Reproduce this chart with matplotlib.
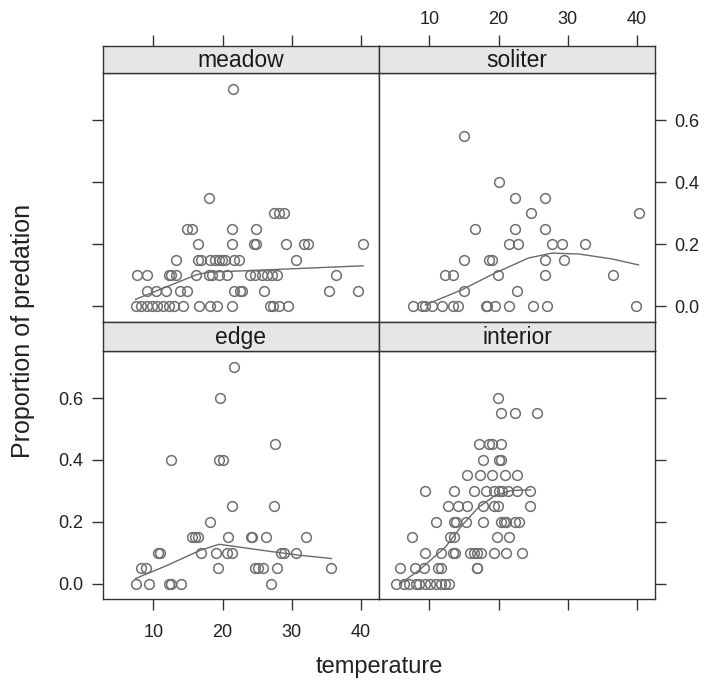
import matplotlib
matplotlib.use("Agg")
import matplotlib.pyplot as plt

# ---- data: temperature vs proportion of predation, by habitat ----
meadow_temp = [7.5, 8.2, 9.0, 9.8, 10.5, 11.4, 12.3, 13.0, 14.3, 16.6, 18.2, 19.2, 21.4, 26.8, 27.3, 28.1, 29.4,
               9.0, 10.4, 11.8, 13.9, 14.9, 21.6, 22.5, 22.8, 26.0, 35.3, 39.6,
               7.6, 9.0, 12.3, 12.6, 13.3, 16.1, 18.0, 18.4, 19.4, 20.6, 24.0, 24.7, 25.7, 26.4, 27.1, 27.8, 36.4,
               13.3, 16.5, 16.8, 18.2, 18.9, 19.4, 19.9, 20.4, 21.6, 22.4, 30.6,
               16.5, 21.4, 24.6, 24.8, 29.2, 31.8, 32.3, 40.3,
               14.9, 15.5, 21.4, 24.8,
               27.4, 28.1, 28.8,
               18.0,
               21.5]
meadow_pred = [0.0] * 17 + [0.05] * 11 + [0.10] * 17 + [0.15] * 11 + [0.20] * 8 + [0.25] * 4 + [0.30] * 3 + [0.35] + [0.70]

soliter_temp = [7.6, 8.9, 9.4, 10.4, 11.8, 13.4, 14.1, 18.1, 18.3, 19.5, 21.5, 24.9, 27.0, 39.8,
                15.0, 22.7,
                12.3, 13.4, 19.9, 26.7, 36.5,
                15.0, 18.6, 19.1, 26.7, 29.4,
                21.5, 22.8, 27.7, 29.2, 32.5,
                16.6, 22.4, 26.7,
                24.7, 40.3,
                22.4, 26.7,
                20.0,
                15.0]
soliter_pred = [0.0] * 14 + [0.05] * 2 + [0.10] * 5 + [0.15] * 5 + [0.20] * 5 + [0.25] * 3 + [0.30] * 2 + [0.35] * 2 + [0.40] + [0.55]

edge_temp = [7.4, 9.3, 12.3, 12.6, 14.0, 27.0,
             8.2, 8.9, 19.3, 24.7, 25.1, 25.9, 27.9, 35.7,
             10.6, 11.0, 16.9, 19.0, 20.6, 21.4, 28.4, 28.9, 30.6,
             15.6, 16.0, 16.5, 20.7, 24.1, 24.3, 26.2, 32.1,
             18.1,
             21.4, 27.4,
             12.5, 19.5, 20.1,
             27.5,
             19.6,
             21.6]
edge_pred = [0.0] * 6 + [0.05] * 8 + [0.10] * 9 + [0.15] * 8 + [0.20] + [0.25] * 2 + [0.40] * 3 + [0.45] + [0.60] + [0.70]

interior_temp = [5.2, 6.3, 7.0, 8.0, 8.5, 9.4, 10.1, 10.9, 11.6, 12.3, 12.8,
                 5.7, 7.9, 9.2, 11.3, 11.7, 16.9, 16.9,
                 9.4, 11.6, 13.4, 13.7, 15.9, 16.4, 16.9, 17.4, 19.3, 21.0, 23.4,
                 7.5, 13.0, 13.5, 19.8, 21.5,
                 10.9, 13.5, 13.8, 15.3, 17.7, 20.4, 20.7, 21.1, 22.4, 22.9,
                 12.7, 14.1, 15.4, 17.8, 19.3, 19.9, 24.6,
                 9.4, 13.5, 16.4, 18.1, 19.3, 20.1, 20.5, 21.3, 22.7, 24.5,
                 15.4, 17.3, 19.1, 20.9, 22.7,
                 17.7, 20.1, 20.4,
                 17.2, 18.6, 19.1, 20.4,
                 20.4, 22.3, 25.5,
                 19.9]
interior_pred = ([0.0] * 11 + [0.05] * 7 + [0.10] * 11 + [0.15] * 5 + [0.20] * 10 + [0.25] * 7
                 + [0.30] * 10 + [0.35] * 5 + [0.40] * 3 + [0.45] * 4 + [0.55] * 3 + [0.60])

# smoothed trend per habitat
meadow_smooth_temp = [7.4, 16.3, 18.2, 22.1, 30.7, 40.3]
meadow_smooth_pred = [0.023, 0.103, 0.111, 0.114, 0.122, 0.131]
soliter_smooth_temp = [9.4, 14.7, 19.5, 24.3, 27.7, 31.6, 36.4, 40.2]
soliter_smooth_pred = [0.005, 0.054, 0.108, 0.156, 0.172, 0.169, 0.153, 0.134]
edge_smooth_temp = [7.4, 12.0, 16.8, 19.5, 21.7, 26.5, 31.3, 35.7]
edge_smooth_pred = [0.016, 0.059, 0.108, 0.127, 0.120, 0.105, 0.091, 0.081]
interior_smooth_temp = [5.8, 8.5, 12.3, 14.7, 17.1, 19.5, 21.9, 24.6]
interior_smooth_pred = [0.0, 0.043, 0.118, 0.188, 0.247, 0.285, 0.301, 0.303]

x_ticks = [10, 20, 30, 40]
y_ticks = [0.0, 0.2, 0.4, 0.6]
y_tick_labels = ["0.0", "0.2", "0.4", "0.6"]

# ---- layout ----
W, H = 706, 681
plt.rcParams['font.family'] = ['Liberation Sans', 'DejaVu Sans']
fig = plt.figure(figsize=(W / 100, H / 100), dpi=100)


def rect(x0, y0, x1, y1):
    return [x0 / W, 1 - y1 / H, (x1 - x0) / W, (y1 - y0) / H]


XL, XM, XR = 103, 379, 655
rows = {0: (46, 73, 322), 1: (322, 351, 599)}

panels = [
    ("meadow", meadow_temp, meadow_pred, meadow_smooth_temp, meadow_smooth_pred, 0, 0),
    ("soliter", soliter_temp, soliter_pred, soliter_smooth_temp, soliter_smooth_pred, 1, 0),
    ("edge", edge_temp, edge_pred, edge_smooth_temp, edge_smooth_pred, 0, 1),
    ("interior", interior_temp, interior_pred, interior_smooth_temp, interior_smooth_pred, 1, 1),
]

XLIM = (2.7, 42.6)
YLIM = (-0.05, 0.752)
edge_col = "#333333"
pt_col = "#707070"
tick_kw = dict(direction="out", length=8, width=1, colors=edge_col, labelsize=13, labelcolor="#222222")

for name, tx, py, sx, sy, col, row in panels:
    x0, x1 = (XL, XM) if col == 0 else (XM, XR)
    s0, s1, p1 = rows[row]

    ax = fig.add_axes(rect(x0, s1, x1, p1))
    ax.plot(tx, py, linestyle="none", marker="o", markersize=7, markerfacecolor="none",
            markeredgecolor=pt_col, markeredgewidth=1.1)
    ax.plot(sx, sy, color="#6a6a6a", linewidth=1.0)
    ax.set_xlim(*XLIM)
    ax.set_ylim(*YLIM)
    ax.set_xticks(x_ticks)
    ax.set_yticks(y_ticks)
    ax.set_yticklabels(y_tick_labels)
    for sp in ax.spines.values():
        sp.set_color(edge_col)
        sp.set_linewidth(1.0)
    ax.tick_params(axis="both", **tick_kw)
    ax.tick_params(axis="x", pad=10, bottom=(row == 1), labelbottom=(row == 1 and col == 0),
                   top=False, labeltop=False)
    ax.tick_params(axis="y", pad=6, left=(col == 0), labelleft=(col == 0 and row == 1),
                   right=(col == 1), labelright=(col == 1 and row == 0))

    st = fig.add_axes(rect(x0, s0, x1, s1))
    st.set_facecolor("#e6e6e6")
    st.set_xlim(*XLIM)
    st.set_yticks([])
    st.set_xticks(x_ticks)
    for sp in st.spines.values():
        sp.set_color(edge_col)
        sp.set_linewidth(1.0)
    st.tick_params(axis="x", **tick_kw)
    st.tick_params(axis="x", pad=5, bottom=False, labelbottom=False,
                   top=(row == 0), labeltop=(row == 0 and col == 1))
    st.text(0.5, 0.45, name, transform=st.transAxes, ha="center", va="center",
            fontsize=16.5, color="#1a1a1a")

fig.text(23 / W, 1 - 331 / H, "Proportion of predation", rotation=90,
         ha="center", va="center", fontsize=18, color="#222222")
fig.text(379 / W, 1 - 667 / H, "temperature", ha="center", va="center",
         fontsize=17, color="#222222")

fig.savefig("out.png", dpi=100, facecolor="white")
